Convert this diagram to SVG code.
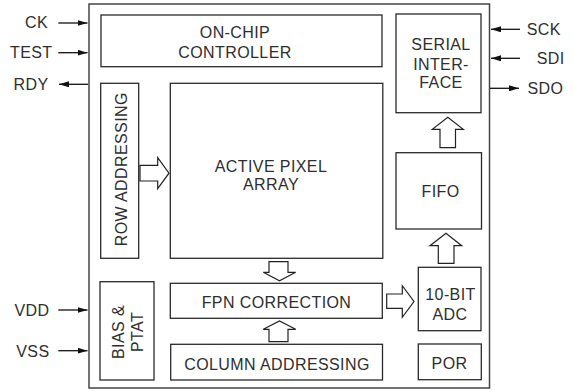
<svg xmlns="http://www.w3.org/2000/svg" width="573" height="392" viewBox="0 0 573 392">
<defs>
<style>
.box{fill:#fff;stroke:#2a2a2a;stroke-width:1.3}
.outer{fill:#fff;stroke:#444;stroke-width:1.5}
.t{font-family:"Liberation Sans",Arial,Helvetica,sans-serif;font-size:16px;letter-spacing:0.4px;fill:#2e2e2e}
.m{text-anchor:middle}
.e{text-anchor:end}
.wire{stroke:#111;stroke-width:1.3;fill:none}
.bus{fill:#fff;stroke:#222;stroke-width:1.2;stroke-linejoin:miter}
</style>
<marker id="ah" viewBox="0 0 10 6" refX="10" refY="3" markerWidth="10" markerHeight="6" markerUnits="userSpaceOnUse" orient="auto">
<path d="M0,0 L10,3 L0,6 z" fill="#111"/>
</marker>
</defs>
<rect width="573" height="392" fill="#fff"/>
<g id="chip"><rect class="outer" x="89" y="4" width="400.5" height="384"/></g>

<g id="controller"><rect class="box" x="101" y="15" width="281" height="51.7"/>
<text class="t m" x="235" y="37.7">ON-CHIP</text><text class="t m" x="235" y="57.7">CONTROLLER</text></g>

<g id="serial"><rect class="box" x="396" y="14" width="85" height="98.7"/>
<text class="t m" x="441" y="50">SERIAL</text><text class="t m" x="441" y="69.5">INTER-</text><text class="t m" x="441" y="88.3">FACE</text></g>

<g id="row"><rect class="box" x="100.7" y="83.3" width="38" height="175"/>
<text class="t m" transform="translate(126.5,169.2) rotate(-90)">ROW ADDRESSING</text></g>

<g id="array"><rect class="box" x="170.3" y="83.3" width="212.5" height="175"/>
<text class="t m" x="271" y="171.7">ACTIVE PIXEL</text><text class="t m" x="271" y="190">ARRAY</text></g>

<g id="fifo"><rect class="box" x="396" y="152.7" width="85.5" height="76.3"/>
<text class="t m" x="440.5" y="196.5">FIFO</text></g>

<g id="fpn"><rect class="box" x="170.3" y="283.3" width="212" height="35"/>
<text class="t m" x="276.5" y="308.3">FPN CORRECTION</text></g>

<g id="adc"><rect class="box" x="418.3" y="267.3" width="62.7" height="63.4"/>
<text class="t m" x="450.5" y="300">10-BIT</text><text class="t m" x="450" y="320">ADC</text></g>

<g id="column"><rect class="box" x="170.7" y="344.3" width="211.8" height="35.7"/>
<text class="t m" x="277" y="369.5">COLUMN ADDRESSING</text></g>

<g id="por"><rect class="box" x="418.3" y="344" width="63" height="35.7"/>
<text class="t m" x="449.5" y="369.3">POR</text></g>

<g id="bias"><rect class="box" x="100" y="281.7" width="54" height="98.3"/>
<text class="t m" transform="translate(124,332) rotate(-90)">BIAS &amp;</text>
<text class="t m" transform="translate(142.5,332) rotate(-90)">PTAT</text></g>

<g id="pins">
<text class="t e" x="48" y="28.3">CK</text>
<text class="t e" x="52.5" y="58.3">TEST</text>
<text class="t e" x="48.5" y="90">RDY</text>
<text class="t e" x="49.5" y="315.7">VDD</text>
<text class="t e" x="49.5" y="356.5">VSS</text>
<text class="t" x="526.7" y="35">SCK</text>
<text class="t" x="536.7" y="64.3">SDI</text>
<text class="t" x="527.5" y="94.3">SDO</text>
</g>

<g id="connectors">
<line class="wire" x1="58.3" y1="23" x2="87.5" y2="23" marker-end="url(#ah)"/>
<line class="wire" x1="58.3" y1="52.7" x2="87.5" y2="52.7" marker-end="url(#ah)"/>
<line class="wire" x1="88" y1="84.3" x2="59" y2="84.3" marker-end="url(#ah)"/>
<line class="wire" x1="58.3" y1="310" x2="87.5" y2="310" marker-end="url(#ah)"/>
<line class="wire" x1="58.3" y1="350.7" x2="87.5" y2="350.7" marker-end="url(#ah)"/>
<line class="wire" x1="520" y1="29.3" x2="491" y2="29.3" marker-end="url(#ah)"/>
<line class="wire" x1="520" y1="58.3" x2="491" y2="58.3" marker-end="url(#ah)"/>
<line class="wire" x1="490" y1="88.3" x2="519" y2="88.3" marker-end="url(#ah)"/>
<path class="bus" d="M140,165.3 H157.7 V157.7 L169,173.2 L157.7,188.7 V181 H140 Z"/>
<path class="bus" d="M269,261.7 H288 V272.3 H295.7 L279.5,280.7 L263.3,272.3 H269 Z"/>
<path class="bus" d="M269,341.7 H288 V329.3 H295.7 L279.5,321 L263.3,329.3 H269 Z"/>
<path class="bus" d="M386.7,294 H402.3 V285.7 L414,301.5 L402.3,317.3 V308.3 H386.7 Z"/>
<path class="bus" d="M438.3,263.3 H454 V245.7 H461.7 L446,233.3 L430,245.7 H438.3 Z"/>
<path class="bus" d="M440,147.7 H455.5 V129.3 H463.3 L447.8,117.3 L432.3,129.3 H440 Z"/>
</g>
</svg>
